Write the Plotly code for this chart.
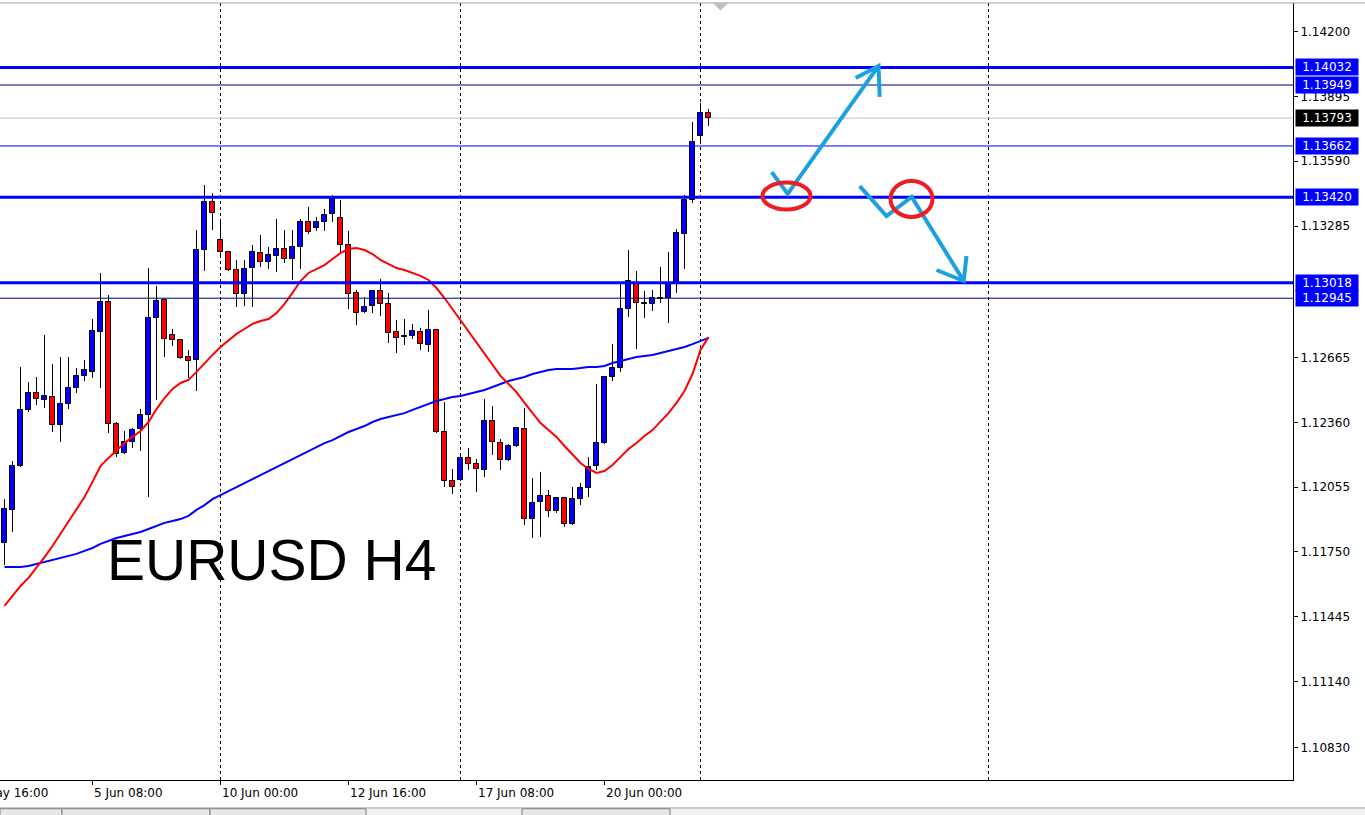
import plotly.graph_objects as go

# ---------------- data (EURUSD H4) ----------------
opens = [1.11792, 1.11948, 1.12155, 1.12419, 1.12499, 1.12466, 1.12480, 1.12348, 1.12447, 1.12522,
         1.12579, 1.12598, 1.12786, 1.12927, 1.12353, 1.12216, 1.12268, 1.12329, 1.12395, 1.12852,
         1.12937, 1.12772, 1.12748, 1.12668, 1.12654, 1.13172, 1.13398, 1.13219, 1.13163, 1.13078,
         1.12965, 1.13087, 1.13158, 1.13116, 1.13144, 1.13177, 1.13130, 1.13186, 1.13304, 1.13276,
         1.13304, 1.13342, 1.13323, 1.13196, 1.12970, 1.12880, 1.12908, 1.12979, 1.12918, 1.12786,
         1.12767, 1.12767, 1.12786, 1.12725, 1.12795, 1.12315, 1.12084, 1.12089, 1.12193, 1.12164,
         1.12136, 1.12367, 1.12263, 1.12183, 1.12249, 1.12329, 1.11905, 1.11985, 1.12014, 1.11943,
         1.12004, 1.11882, 1.11999, 1.12051, 1.12155, 1.12263, 1.12574, 1.12616, 1.12894, 1.13017,
         1.12918, 1.12918, 1.12941, 1.12946, 1.13017, 1.13247, 1.13408, 1.13709, 1.13817]
highs = [1.11999, 1.12178, 1.12621, 1.12550, 1.12574, 1.12772, 1.12635, 1.12668, 1.12668, 1.12616,
         1.12654, 1.12847, 1.13064, 1.12960, 1.12362, 1.12320, 1.12334, 1.12423, 1.13087, 1.13003,
         1.12946, 1.12800, 1.12753, 1.12701, 1.13266, 1.13478, 1.13440, 1.13313, 1.13167, 1.13125,
         1.13125, 1.13196, 1.13243, 1.13186, 1.13318, 1.13266, 1.13266, 1.13318, 1.13375, 1.13327,
         1.13365, 1.13431, 1.13408, 1.13262, 1.12984, 1.12951, 1.12984, 1.13036, 1.12970, 1.12842,
         1.12847, 1.12824, 1.12805, 1.12890, 1.12795, 1.12456, 1.12141, 1.12216, 1.12240, 1.12188,
         1.12470, 1.12437, 1.12282, 1.12258, 1.12339, 1.12428, 1.12098, 1.12127, 1.12042, 1.12009,
         1.12009, 1.12056, 1.12075, 1.12197, 1.12541, 1.12579, 1.12729, 1.13012, 1.13172, 1.13073,
         1.12979, 1.12984, 1.13092, 1.13163, 1.13271, 1.13431, 1.13775, 1.13864, 1.13836]
lows = [1.11689, 1.11844, 1.12150, 1.12409, 1.12442, 1.12428, 1.12315, 1.12268, 1.12423, 1.12499,
        1.12555, 1.12569, 1.12522, 1.12310, 1.12197, 1.12211, 1.12240, 1.12226, 1.12009, 1.12466,
        1.12668, 1.12720, 1.12659, 1.12569, 1.12508, 1.13073, 1.13266, 1.13139, 1.13073, 1.12904,
        1.12908, 1.12904, 1.13092, 1.13083, 1.13068, 1.13111, 1.13031, 1.13083, 1.13247, 1.13262,
        1.13262, 1.13304, 1.13158, 1.12894, 1.12819, 1.12875, 1.12875, 1.12861, 1.12734, 1.12687,
        1.12725, 1.12753, 1.12701, 1.12692, 1.12310, 1.12056, 1.12023, 1.12084, 1.12136, 1.12032,
        1.12103, 1.12207, 1.12136, 1.12178, 1.12244, 1.11877, 1.11816, 1.11821, 1.11915, 1.11934,
        1.11868, 1.11877, 1.11971, 1.12009, 1.12136, 1.12258, 1.12555, 1.12598, 1.12857, 1.12706,
        1.12852, 1.12885, 1.12923, 1.12828, 1.12970, 1.13083, 1.13393, 1.13671, 1.13756]
closes = [1.11952, 1.12155, 1.12419, 1.12499, 1.12470, 1.12485, 1.12348, 1.12447, 1.12522, 1.12579,
          1.12607, 1.12791, 1.12927, 1.12353, 1.12211, 1.12268, 1.12324, 1.12395, 1.12852, 1.12932,
          1.12753, 1.12748, 1.12663, 1.12649, 1.13172, 1.13398, 1.13346, 1.13163, 1.13078, 1.12965,
          1.13083, 1.13163, 1.13116, 1.13149, 1.13177, 1.13130, 1.13186, 1.13304, 1.13257, 1.13304,
          1.13337, 1.13412, 1.13196, 1.12965, 1.12875, 1.12904, 1.12979, 1.12918, 1.12781, 1.12758,
          1.12762, 1.12791, 1.12729, 1.12795, 1.12315, 1.12084, 1.12056, 1.12193, 1.12164, 1.12141,
          1.12367, 1.12268, 1.12183, 1.12249, 1.12334, 1.11905, 1.11981, 1.12014, 1.11943, 1.12004,
          1.11882, 1.11999, 1.12051, 1.12150, 1.12263, 1.12574, 1.12616, 1.12894, 1.13026, 1.12923,
          1.12923, 1.12946, 1.12946, 1.13017, 1.13252, 1.13408, 1.13681, 1.13817, 1.13793]

ma_fast = [1.11496, 1.11543, 1.11590, 1.11628, 1.11675, 1.11726, 1.11778, 1.11835, 1.11891, 1.11948,
           1.12009, 1.12080, 1.12155, 1.12193, 1.12230, 1.12263, 1.12292, 1.12320, 1.12362, 1.12423,
           1.12475, 1.12518, 1.12546, 1.12560, 1.12598, 1.12640, 1.12678, 1.12715, 1.12748, 1.12777,
           1.12800, 1.12824, 1.12838, 1.12847, 1.12875, 1.12918, 1.12970, 1.13026, 1.13064, 1.13083,
           1.13101, 1.13130, 1.13158, 1.13177, 1.13181, 1.13172, 1.13153, 1.13125, 1.13106, 1.13087,
           1.13078, 1.13064, 1.13050, 1.13031, 1.12993, 1.12946, 1.12894, 1.12842, 1.12791, 1.12739,
           1.12687, 1.12630, 1.12579, 1.12541, 1.12503, 1.12452, 1.12404, 1.12357, 1.12324, 1.12292,
           1.12249, 1.12207, 1.12169, 1.12141, 1.12122, 1.12131, 1.12160, 1.12197, 1.12235, 1.12263,
           1.12296, 1.12324, 1.12362, 1.12404, 1.12452, 1.12508, 1.12588, 1.12701, 1.12762]
ma_slow = [1.11679, 1.11679, 1.11679, 1.11684, 1.11693, 1.11703, 1.11712, 1.11722, 1.11731, 1.11741,
           1.11755, 1.11769, 1.11788, 1.11802, 1.11816, 1.11825, 1.11835, 1.11844, 1.11858, 1.11872,
           1.11887, 1.11896, 1.11905, 1.11920, 1.11948, 1.11971, 1.11999, 1.12018, 1.12037, 1.12056,
           1.12075, 1.12094, 1.12113, 1.12131, 1.12150, 1.12169, 1.12188, 1.12207, 1.12226, 1.12244,
           1.12263, 1.12277, 1.12296, 1.12315, 1.12329, 1.12343, 1.12362, 1.12376, 1.12386, 1.12395,
           1.12404, 1.12419, 1.12433, 1.12447, 1.12461, 1.12470, 1.12480, 1.12485, 1.12494, 1.12503,
           1.12513, 1.12527, 1.12541, 1.12555, 1.12565, 1.12574, 1.12588, 1.12598, 1.12607, 1.12612,
           1.12612, 1.12612, 1.12616, 1.12621, 1.12621, 1.12626, 1.12640, 1.12649, 1.12659, 1.12668,
           1.12673, 1.12678, 1.12687, 1.12696, 1.12706, 1.12715, 1.12729, 1.12744, 1.12758]

# time axis (bar index of each labelled tick) and labels
time_tick_bars = [-5, 11, 27, 43, 59, 75]
time_tick_labels = ["31 May 16:00", "5 Jun 08:00", "10 Jun 00:00", "12 Jun 16:00",
                    "17 Jun 08:00", "20 Jun 00:00"]
period_separator_bars = [27, 57, 87, 123]

# price axis ticks
price_ticks = [1.14200, 1.13895, 1.13590, 1.13285, 1.12665, 1.12360, 1.12055,
               1.11750, 1.11445, 1.11140, 1.10830]

# horizontal levels drawn on the chart
level_prices = [1.14032, 1.13949, 1.13662, 1.13420, 1.13018, 1.12945]
level_widths = [3, 1, 1, 3, 3, 1]
level_colors = ["#0000ff", "#000070", "#0000ff", "#0000ff", "#0000ff", "#000070"]
bid_price = 1.13793

# ---------------- figure ----------------
W, H = 1365, 815
ML, MR, MT, MB = 0, 72, 3, 35
n = len(opens)
idx = list(range(n))
x_range = [-0.5625, 161.0625]
y_range = [1.106763, 1.143352]
px_per_bar = (W - ML - MR) / (x_range[1] - x_range[0])

bull = "#0000ff"
bear = "#ff0000"
body_base = [min(o, c) for o, c in zip(opens, closes)]
body_h = [abs(c - o) for o, c in zip(opens, closes)]
body_col = [bull if c >= o else bear for o, c in zip(opens, closes)]

wx, wy = [], []
for i in idx:
    top = max(opens[i], closes[i])
    bot = min(opens[i], closes[i])
    wx += [i, i, None, i, i, None]
    wy += [highs[i], top, None, bot, lows[i], None]

fig = go.Figure()
fig.add_trace(go.Bar(x=idx, y=body_h, base=body_base, width=0.55,
                     marker=dict(color=body_col, line=dict(color="black", width=1)),
                     hoverinfo="skip", showlegend=False))
fig.add_trace(go.Scatter(x=wx, y=wy, mode="lines", line=dict(color="black", width=1),
                         hoverinfo="skip", showlegend=False))
fig.add_trace(go.Scatter(x=idx, y=ma_slow, mode="lines", line=dict(color="#0000ff", width=2),
                         hoverinfo="skip", showlegend=False))
fig.add_trace(go.Scatter(x=idx, y=ma_fast, mode="lines", line=dict(color="#ff0000", width=2),
                         hoverinfo="skip", showlegend=False))

shapes = []
# period separators (dotted)
for b in period_separator_bars:
    shapes.append(dict(type="line", xref="x", yref="paper", x0=b, x1=b, y0=0, y1=1,
                       line=dict(color="black", width=1, dash="3px,3px"), layer="below"))
# bid line
shapes.append(dict(type="line", xref="paper", yref="y", x0=0, x1=1, y0=bid_price, y1=bid_price,
                   line=dict(color="#c0c0c0", width=1), layer="below"))
# levels
for p, w, c in zip(level_prices, level_widths, level_colors):
    shapes.append(dict(type="line", xref="paper", yref="y", x0=0, x1=1, y0=p, y1=p,
                       line=dict(color=c, width=w), layer="above"))

# hand drawn arrows and circles (bar index / price coordinates)
arrow_col = "#1ba1e2"
shapes.append(dict(type="path", xref="x", yref="y",
                   path="M 95.9,1.13539 L 97.9,1.13436 L 109.25,1.14039 "
                        "M 106.4,1.13982 L 109.25,1.14039 L 109.4,1.13893",
                   line=dict(color=arrow_col, width=4), layer="above"))
shapes.append(dict(type="path", xref="x", yref="y",
                   path="M 106.9,1.13473 L 110.25,1.13332 L 113.4,1.13422 L 119.9,1.13026 "
                        "M 116.5,1.13078 L 119.9,1.13026 L 120.25,1.13144",
                   line=dict(color=arrow_col, width=4), layer="above"))
shapes.append(dict(type="circle", xref="x", yref="y", x0=94.75, x1=100.75, y0=1.13363, y1=1.13490,
                   line=dict(color="#ee1c25", width=4), layer="above"))
shapes.append(dict(type="circle", xref="x", yref="y", x0=110.75, x1=116.0, y0=1.13328, y1=1.13497,
                   line=dict(color="#ee1c25", width=4), layer="above"))

# frame / chrome
shapes.append(dict(type="line", xref="paper", yref="paper", x0=0, x1=1.06, y0=1, y1=1,
                   line=dict(color="#a0a0a0", width=1), layer="above"))
shapes.append(dict(type="path", xref="x", yref="paper",
                   path="M 88.6,1 L 90.4,1 L 89.5,0.991 Z",
                   fillcolor="#c0c0c0", line=dict(color="#c0c0c0", width=1), layer="above"))
# bottom tab strip
shapes.append(dict(type="rect", xref="paper", yref="paper", x0=0, x1=1.06, y0=-0.046, y1=-0.036,
                   fillcolor="#f0f0f0", line=dict(color="#a0a0a0", width=1), layer="above"))
for a, b in [(0, 62), (62, 210), (210, 366), (522, 670)]:
    shapes.append(dict(type="rect", xref="paper", yref="paper",
                       x0=a / (W - MR), x1=b / (W - MR), y0=-0.046, y1=-0.037,
                       fillcolor="#e6e6e6", line=dict(color="#808080", width=1), layer="above"))

annotations = []
tick_font = dict(family="DejaVu Sans", size=12, color="black")
# price labels for levels
for p, c in zip(level_prices, level_colors):
    annotations.append(dict(xref="paper", yref="y", x=1, y=p, xanchor="left", yanchor="middle",
                            xshift=2, text=f"{p:.5f}", showarrow=False, bgcolor="#0000ff",
                            width=60, height=14, borderpad=1,
                            font=dict(family="DejaVu Sans", size=12, color="white")))
annotations.append(dict(xref="paper", yref="y", x=1, y=bid_price, xanchor="left", yanchor="middle",
                        xshift=2, text=f"{bid_price:.5f}", showarrow=False, bgcolor="black",
                        width=60, height=14, borderpad=1,
                        font=dict(family="DejaVu Sans", size=12, color="white")))
# time labels (left aligned at their tick)
for b, t in zip(time_tick_bars, time_tick_labels):
    xa = max(b, x_range[0] + 0.01)
    annotations.append(dict(xref="x", yref="paper", x=xa, y=0, xanchor="left", yanchor="top",
                            xshift=(b - xa) * px_per_bar - 1, yshift=-4, text=t, showarrow=False,
                            font=tick_font))
# chart caption
annotations.append(dict(xref="x", yref="y", x=12.6, y=1.11712, xanchor="left", yanchor="middle",
                        text="EURUSD H4", showarrow=False,
                        font=dict(family="Liberation Sans", size=57, color="black")))

fig.update_layout(
    width=W, height=H,
    margin=dict(l=ML, r=MR, t=MT, b=MB, pad=0),
    plot_bgcolor="white", paper_bgcolor="white",
    showlegend=False, bargap=0,
    shapes=shapes, annotations=annotations,
    xaxis=dict(range=x_range, showgrid=False, zeroline=False, showline=True, linecolor="black",
               linewidth=1, ticks="outside", ticklen=4, tickcolor="black",
               tickvals=time_tick_bars, showticklabels=False, fixedrange=True),
    yaxis=dict(range=y_range, side="right", showgrid=False, zeroline=False, showline=True,
               linecolor="black", linewidth=1, ticks="outside", ticklen=4, tickcolor="black",
               tickvals=price_ticks, ticktext=[f"{v:.5f}" for v in price_ticks],
               tickfont=tick_font, fixedrange=True),
)

fig.write_html("out.html", config={"displayModeBar": False},
               post_script="document.body.style.margin='0';")
